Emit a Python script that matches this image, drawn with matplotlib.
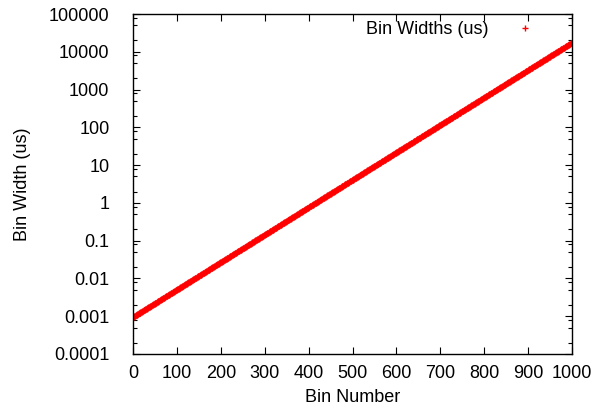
import matplotlib
matplotlib.use("Agg")
import matplotlib.pyplot as plt
import numpy as np
from matplotlib.ticker import LogLocator, FixedLocator, NullFormatter

plt.rcParams['font.family'] = ['Liberation Sans', 'DejaVu Sans']
plt.rcParams['font.size'] = 13

# log-spaced histogram bins: width of first and last bin (us)
n_bins = 1001
first_width = 0.00095
last_width = 17500.0
bin_number = np.arange(n_bins)
bin_width = np.geomspace(first_width, last_width, n_bins)

fig = plt.figure(figsize=(6.11, 4.11), dpi=100)
ax = fig.add_axes([133/611, 1-354/411, (572-133)/611, (354-14)/411])

ax.plot(bin_number, bin_width, linestyle='none', marker='+', color='#ff0000',
        markersize=5, markeredgewidth=1, label="Bin Widths (us)")

ax.set_yscale('log')
ax.set_xlim(0, 1000)
ax.set_ylim(1e-4, 1e5)
ax.xaxis.set_major_locator(FixedLocator(np.arange(0, 1001, 100)))
yt = [1e-4, 1e-3, 1e-2, 1e-1, 1, 10, 100, 1000, 1e4, 1e5]
ax.yaxis.set_major_locator(FixedLocator(yt))
ax.set_yticklabels(['0.0001', '0.001', '0.01', '0.1', '1', '10', '100', '1000', '10000', '100000'])
ax.yaxis.set_minor_locator(LogLocator(base=10, subs=(2, 5, 8), numticks=20))
ax.yaxis.set_minor_formatter(NullFormatter())

ax.tick_params(which='both', direction='in', top=True, right=True, width=0.8)
ax.tick_params(which='major', length=5)
ax.tick_params(axis='y', which='major', pad=17)
ax.tick_params(axis='x', which='major', pad=8)
ax.tick_params(which='minor', length=3)
for s in ax.spines.values():
    s.set_linewidth(1.0)

ax.set_xlabel("Bin Number")
ax.set_ylabel("Bin Width (us)")
ax.xaxis.set_label_coords(0.5, -(389-354)/340, transform=ax.transAxes)
ax.yaxis.set_label_coords(-(133-31)/439, 0.5, transform=ax.transAxes)

ax.legend(loc='upper right', frameon=False, markerfirst=False, handlelength=1.5,
          handletextpad=1.3, borderaxespad=0.1, bbox_to_anchor=(0.945, 1.005))

fig.savefig("out.png", dpi=100)
